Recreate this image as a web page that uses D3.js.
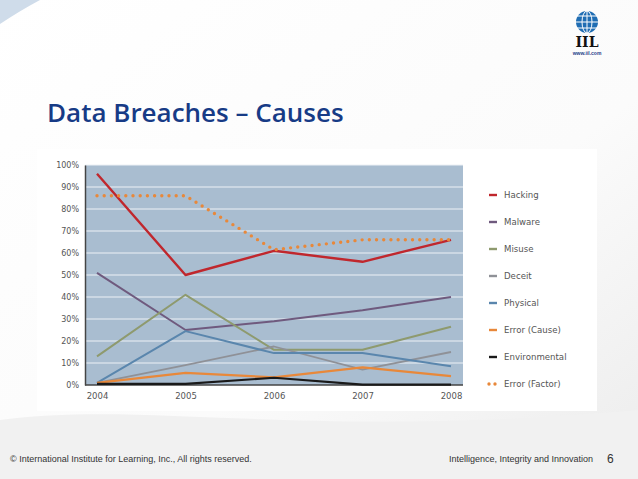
<!DOCTYPE html>
<html>
<head>
<meta charset="utf-8">
<script src="https://cdn.jsdelivr.net/npm/d3@7"></script>
<style>
  body { margin: 0; overflow: hidden; }
  svg { display: block; }
</style>
</head>
<body>
<svg id="slide"></svg>
<script>
// chart data
const years = [2004, 2005, 2006, 2007, 2008];
const hacking = [96, 50, 61, 56, 66];
const malware = [51, 25, 29, 34, 40];
const misuse = [13, 41, 16, 16, 26.5];
const deceit = [1, 9, 17.5, 7, 15];
const physical = [1, 24.5, 14.5, 14.5, 8.5];
const errorCause = [1, 5.5, 3.5, 8, 4];
const environmental = [0.5, 0.5, 3.3, 0.2, 0.2];
const errorFactor = [86, 86, 61.5, 66, 66];
const yTicks = [0, 10, 20, 30, 40, 50, 60, 70, 80, 90, 100];

const series = [
    {name: 'Hacking', values: hacking, color: '#c0272d', width: 2.4},
    {name: 'Malware', values: malware, color: '#6f5a7e', width: 2},
    {name: 'Misuse', values: misuse, color: '#8e9a6e', width: 2},
    {name: 'Deceit', values: deceit, color: '#8f9197', width: 1.8},
    {name: 'Physical', values: physical, color: '#5a86ad', width: 2},
    {name: 'Error (Cause)', values: errorCause, color: '#e8883a', width: 2.2},
    {name: 'Environmental', values: environmental, color: '#1a1a1a', width: 2.2},
    {name: 'Error (Factor)', values: errorFactor, color: '#e8883a', width: 3.4, dotted: true}
];

const W = 638, H = 479;
const svg = d3.select('#slide').attr('width', W).attr('height', H);

// slide background
const defs = svg.append('defs');
const bg = defs.append('linearGradient').attr('id', 'bg')
    .attr('x1', 0).attr('y1', 0).attr('x2', 1).attr('y2', 1);
bg.append('stop').attr('offset', '0%').attr('stop-color', '#ffffff');
bg.append('stop').attr('offset', '60%').attr('stop-color', '#fbfbfb');
bg.append('stop').attr('offset', '100%').attr('stop-color', '#ececec');
svg.append('rect').attr('width', W).attr('height', H).attr('fill', 'url(#bg)');
svg.append('path')
    .attr('d', 'M0,420 C150,400 300,440 638,410 L638,479 L0,479 Z')
    .attr('fill', '#f1f1f1');
svg.append('path')
    .attr('d', 'M0,0 L40,0 C25,8 12,16 0,24 Z')
    .attr('fill', '#cfdcea');

// logo
const logo = svg.append('g').attr('transform', 'translate(587, 22)');
logo.append('circle').attr('r', 11).attr('fill', '#1f6db3');
[-6, 0, 6].forEach(d => {
    logo.append('line').attr('x1', -11).attr('x2', 11).attr('y1', d).attr('y2', d)
        .attr('stroke', '#fff').attr('stroke-width', 1);
});
logo.append('ellipse').attr('rx', 5).attr('ry', 11).attr('fill', 'none')
    .attr('stroke', '#fff').attr('stroke-width', 1);
logo.append('line').attr('y1', -11).attr('y2', 11).attr('stroke', '#fff').attr('stroke-width', 1);
logo.append('text').attr('y', 25).attr('text-anchor', 'middle')
    .style('font-family', 'DejaVu Serif').style('font-weight', 'bold').style('font-size', '14px')
    .attr('fill', '#111').text('IIL');
logo.append('text').attr('y', 33).attr('text-anchor', 'middle')
    .style('font-family', 'Liberation Sans').style('font-weight', 'bold').style('font-size', '5px')
    .attr('fill', '#1f3c8a').text('www.iil.com');

// title
svg.append('text').attr('x', 47).attr('y', 122)
    .style('font-family', 'Open Sans').style('font-weight', 600).style('font-size', '26px')
    .attr('fill', '#173b86').text('Data Breaches \u2013 Causes');

// chart card
svg.append('rect').attr('x', 37).attr('y', 149).attr('width', 560).attr('height', 262).attr('fill', '#fff');

const margin = {top: 165, left: 85};
const plotW = 463 - 85, plotH = 385 - 165;
const xScale = d3.scaleLinear().domain([2004, 2008]).range([97 - 85, 451 - 85]);
const yScale = d3.scaleLinear().domain([0, 100]).range([plotH, 0]);

const g = svg.append('g').attr('transform', `translate(${margin.left}, ${margin.top})`);
g.append('rect').attr('width', plotW).attr('height', plotH).attr('fill', '#a9bdd0');

g.append('g').attr('class', 'grid')
    .selectAll('line').data(yTicks.slice(1)).enter().append('line')
    .attr('x1', 0).attr('x2', plotW)
    .attr('y1', d => yScale(d)).attr('y2', d => yScale(d))
    .attr('stroke', '#eef2f6').attr('stroke-width', 1.1);

const yAxis = d3.axisLeft(yScale).tickValues(yTicks).tickSize(0).tickPadding(6)
    .tickFormat(d => d + '%');
const yG = g.append('g').call(yAxis);
yG.select('.domain').attr('stroke', '#444').attr('stroke-width', 1.5);
yG.selectAll('text').style('font-family', 'DejaVu Sans').style('font-size', '8px').attr('fill', '#555');

const xAxis = d3.axisBottom(xScale).tickValues(years).tickSize(0).tickPadding(8)
    .tickFormat(d3.format('d'));
const xG = g.append('g').attr('transform', `translate(0, ${plotH})`).call(xAxis);
xG.select('.domain').attr('d', `M0,0H${plotW}`).attr('stroke', '#444').attr('stroke-width', 1.5);
xG.selectAll('text').style('font-family', 'DejaVu Sans').style('font-size', '8.5px').attr('fill', '#555');

const line = d3.line().x((d, i) => xScale(years[i])).y(d => yScale(d));

series.forEach(s => {
    const p = g.append('path').datum(s.values)
        .attr('d', line)
        .attr('fill', 'none')
        .attr('stroke', s.color)
        .attr('stroke-width', s.width)
        .attr('stroke-linejoin', 'round');
    if (s.dotted) {
        p.attr('stroke-dasharray', '0 7.2').attr('stroke-linecap', 'round');
    }
});

// legend
const legendY = d3.scalePoint().domain(series.map(s => s.name)).range([195, 384]);
const legend = svg.append('g');
series.forEach(s => {
    const y = legendY(s.name);
    const l = legend.append('line').attr('x1', 489).attr('x2', 497).attr('y1', y).attr('y2', y)
        .attr('stroke', s.color).attr('stroke-width', s.dotted ? 3.4 : 2.4);
    if (s.dotted) {
        l.attr('x1', 489).attr('x2', 499).attr('stroke-dasharray', '0 6').attr('stroke-linecap', 'round');
    }
    legend.append('text').attr('x', 504).attr('y', y + 3)
        .style('font-family', 'DejaVu Sans').style('font-size', '8.6px').attr('fill', '#555')
        .text(s.name);
});

// footer
svg.append('text').attr('x', 10).attr('y', 462)
    .style('font-family', 'Liberation Sans').style('font-size', '9px').attr('fill', '#333')
    .text('\u00a9 International Institute for Learning, Inc., All rights reserved.');
svg.append('text').attr('x', 593).attr('y', 462).attr('text-anchor', 'end')
    .style('font-family', 'Liberation Sans').style('font-size', '9px').attr('fill', '#333')
    .text('Intelligence, Integrity and Innovation');
svg.append('text').attr('x', 607).attr('y', 463)
    .style('font-family', 'Liberation Sans').style('font-size', '12px').attr('fill', '#333')
    .text('6');
</script>
</body>
</html>
